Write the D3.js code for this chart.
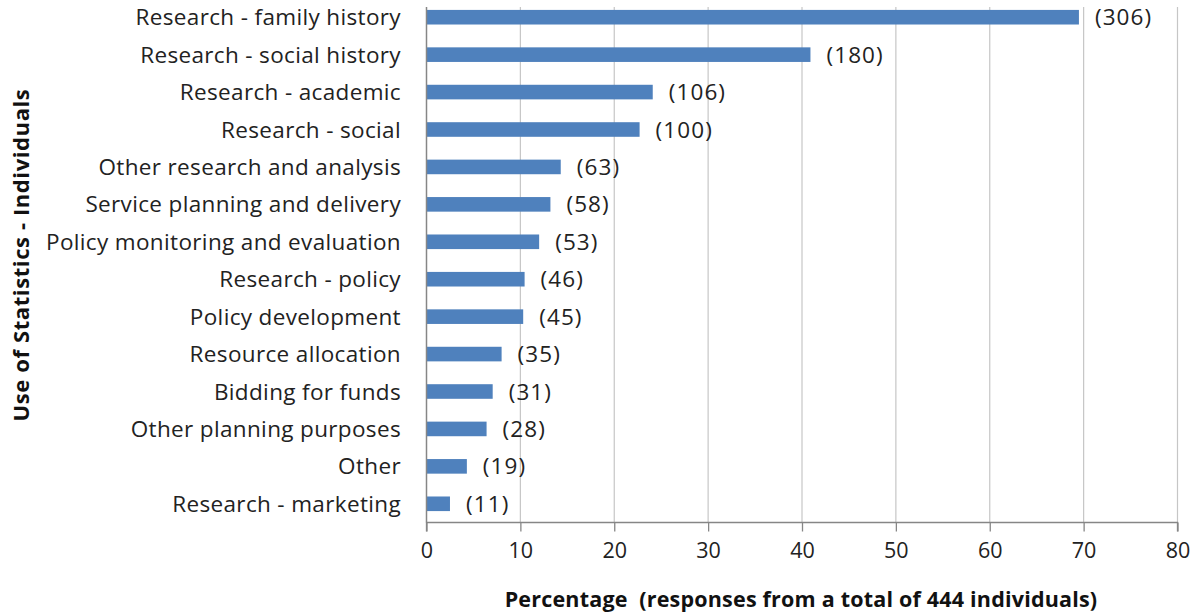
<!DOCTYPE html>
<html>
<head>
<meta charset="utf-8">
<script src="https://cdn.jsdelivr.net/npm/d3@7"></script>
<style>
  body { margin: 0; background: #fff; }
  svg { display: block; font-family: "Open Sans", Lato, sans-serif; }
</style>
</head>
<body>
<svg width="1197" height="613"></svg>
<script>
const categories = [
  "Research - family history", "Research - social history", "Research - academic",
  "Research - social", "Other research and analysis", "Service planning and delivery",
  "Policy monitoring and evaluation", "Research - policy", "Policy development",
  "Resource allocation", "Bidding for funds", "Other planning purposes", "Other",
  "Research - marketing"
];
// percentages, counts from the labels
const percentages = [69.5, 40.9, 24.1, 22.7, 14.3, 13.2, 12.0, 10.45, 10.3, 8.0, 7.05, 6.4, 4.3, 2.5];
const counts = [306, 180, 106, 100, 63, 58, 53, 46, 45, 35, 31, 28, 19, 11];
const xTicks = [0, 10, 20, 30, 40, 50, 60, 70, 80];

const data = categories.map((c, i) => ({
  name: c,
  count: counts[i],
  pct: percentages[i]
}));

const left = 426.5, right = 1177.5, plotTop = 7, plotBottom = 522.5;
const fs = 22.5;

const svg = d3.select('svg');

const x = d3.scaleLinear().domain([0, 80]).range([left, right]);
const y = d3.scaleBand()
  .domain(categories)
  .range([-1.5, plotBottom])
  .paddingInner(0.61)
  .paddingOuter(0.305);

// gridlines
svg.append('g')
  .selectAll('line')
  .data(xTicks.slice(1))
  .enter().append('line')
  .attr('x1', d => x(d)).attr('x2', d => x(d))
  .attr('y1', plotTop).attr('y2', plotBottom)
  .attr('stroke', '#c6c6c6')
  .attr('stroke-width', 1.2);

// bars
svg.append('g')
  .selectAll('rect')
  .data(data)
  .enter().append('rect')
  .attr('x', x(0))
  .attr('y', d => y(d.name))
  .attr('width', d => x(d.pct) - x(0))
  .attr('height', y.bandwidth())
  .attr('fill', '#4f81bd');

// value labels
svg.append('g')
  .selectAll('text')
  .data(data)
  .enter().append('text')
  .attr('x', d => x(d.pct) + 16)
  .attr('y', d => y(d.name) + y.bandwidth() / 2)
  .attr('dy', '0.36em')
  .attr('font-size', fs)
  .attr('letter-spacing', 1.1)
  .attr('fill', '#222')
  .text(d => `(${d.count})`);

// x axis
const xAxis = d3.axisBottom(x)
  .tickValues(xTicks)
  .tickSize(9)
  .tickPadding(11);

const gx = svg.append('g')
  .attr('transform', `translate(0,${plotBottom})`)
  .call(xAxis);
gx.select('.domain').attr('stroke', '#868686').attr('stroke-width', 1.3)
  .attr('d', `M${left},9V0H${right}V9`);
gx.selectAll('.tick line').attr('stroke', '#868686').attr('stroke-width', 1.3);
gx.selectAll('.tick text')
  .attr('font-size', 21.5)
  .attr('font-family', '"Open Sans", sans-serif')
  .attr('fill', '#222');

// y axis
svg.append('line')
  .attr('x1', left).attr('x2', left)
  .attr('y1', plotTop).attr('y2', plotBottom)
  .attr('stroke', '#868686')
  .attr('stroke-width', 1.5);

svg.append('g')
  .selectAll('text')
  .data(categories)
  .enter().append('text')
  .attr('x', 401)
  .attr('y', d => y(d) + y.bandwidth() / 2)
  .attr('dy', '0.36em')
  .attr('text-anchor', 'end')
  .attr('font-size', fs)
  .attr('letter-spacing', 0.35)
  .attr('fill', '#222')
  .text(d => d);

// axis titles
svg.append('text')
  .attr('x', 801)
  .attr('y', 607)
  .attr('text-anchor', 'middle')
  .attr('font-size', 21.5)
  .attr('letter-spacing', 0.2)
  .attr('font-weight', 'bold')
  .attr('fill', '#111')
  .text('Percentage\u00a0 (responses from a total of 444 individuals)');

svg.append('text')
  .attr('transform', 'translate(29,255) rotate(-90)')
  .attr('text-anchor', 'middle')
  .attr('font-size', 22)
  .attr('letter-spacing', 0.6)
  .attr('font-weight', 'bold')
  .attr('fill', '#111')
  .text('Use of Statistics - Individuals');
</script>
</body>
</html>
